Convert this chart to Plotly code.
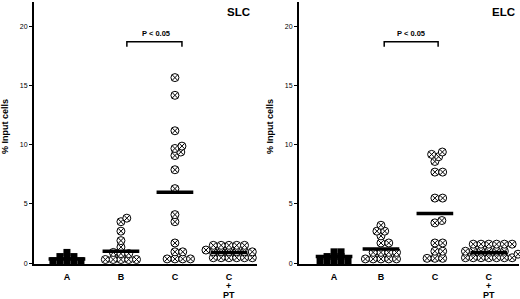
import math
import plotly.graph_objects as go

# ---- data ----
categories = ["A", "B", "C", "C+PT"]
tick_labels = ["A", "B", "C", "C"]
tick_sublabels = ["+", "PT"]   # extra lines under the last category
panels = ["SLC", "ELC"]

slc_A = [0.2, 0.2, 0.2, 0.2, 0.2, 0.55, 0.55, 0.55, 0.9]
slc_B = [0.3, 0.3, 0.3, 0.3, 0.3, 0.8, 0.8, 0.9, 1.35, 1.9, 2.7, 3.5, 3.8]
slc_C = [0.35, 0.35, 0.35, 0.35, 0.95, 0.95, 1.7, 3.5, 4.1, 6.3, 7.9,
         9.1, 9.4, 9.7, 9.9, 11.2, 14.2, 15.7]
slc_CPT = [0.45, 0.45, 0.45, 0.45, 0.45, 0.45, 0.95, 0.95, 0.95, 0.95, 0.95,
           0.95, 1.1, 1.5, 1.5, 1.5, 1.5, 1.5]
slc_means = [0.35, 1.0, 6.0, 0.9]

elc_A = [0.2, 0.2, 0.2, 0.2, 0.2, 0.55, 0.55, 0.55, 0.95, 0.95]
elc_B = [0.35, 0.35, 0.35, 0.35, 0.35, 0.9, 0.9, 0.9, 0.9, 1.7, 1.7, 2.3,
         2.7, 2.7, 3.2]
elc_C = [0.4, 0.4, 0.4, 1.0, 1.0, 1.7, 1.7, 3.4, 3.6, 5.5, 5.5, 7.7, 7.7,
         8.6, 9.0, 9.2, 9.4]
elc_CPT = [0.45, 0.45, 0.45, 0.45, 0.45, 0.45, 0.45, 0.75, 1.0, 1.0, 1.0,
           1.0, 1.0, 1.0, 1.6, 1.6, 1.6, 1.6, 1.6, 1.6]
elc_means = [0.55, 1.2, 4.2, 0.9]

sig_text = "P < 0.05"

# ---- geometry ----
W, H = 520, 299
PX_PER_Y = 11.8      # pixels per data unit (y)
PX_PER_CAT = 54.0    # pixels per category step (x)
FONT = "Liberation Sans, Arial, sans-serif"


def px(x):
    return x / W


def py(y):
    return 1 - y / H


def dodge(values, d, yscale):
    """Simple beeswarm: returns x offsets in pixels."""
    order = sorted(range(len(values)), key=lambda i: values[i])
    placed = []
    offs = [0.0] * len(values)
    for i in order:
        yv = values[i] * PX_PER_Y * yscale
        cands = [0.0]
        for (xo, yo) in placed:
            dy = abs(yv - yo)
            if dy < d:
                dx = math.sqrt(d * d - dy * dy)
                cands += [xo + dx, xo - dx]
        best = 0.0
        for c in sorted(cands, key=lambda c: (abs(c), -c)):
            ok = all((c - xo) ** 2 + (yv - yo) ** 2 >= d * d - 1e-6
                     for (xo, yo) in placed)
            if ok:
                best = c
                break
        placed.append((best, yv))
        offs[i] = best
    return offs


fig = go.Figure()

panel_data = [
    ([slc_A, slc_B, slc_C, slc_CPT], slc_means, [0, 1, 2, 3], [-0.61, 3.52],
     [34, 257], (238, 12), (156, 33), (1.11, 2.13)),
    ([elc_A, elc_B, elc_C, elc_CPT], elc_means, [0.13, 1, 2, 3], [-0.52, 3.56],
     [299, 519], (503, 12), (411, 33), (1.06, 2.06)),
]

y_top, y_bot = 2, 264
for k, (groups, means, xpos, xr, xdom, lab_xy, sig_xy, br) in enumerate(panel_data):
    xa = "x" if k == 0 else "x2"
    ya = "y" if k == 0 else "y2"
    for gi, vals in enumerate(groups):
        if gi == 0:
            offs = dodge(vals, 7.0, 3.0)
            fig.add_trace(go.Scatter(
                x=[xpos[gi] + o / PX_PER_CAT for o in offs], y=vals,
                mode="markers", xaxis=xa, yaxis=ya, cliponaxis=False,
                marker=dict(symbol="square", size=7, color="black",
                            line=dict(width=0)),
                showlegend=False, hoverinfo="skip"))
        else:
            offs = dodge(vals, 7.8, 1.45)
            fig.add_trace(go.Scatter(
                x=[xpos[gi] + o / PX_PER_CAT for o in offs], y=vals,
                mode="markers", xaxis=xa, yaxis=ya, cliponaxis=False,
                marker=dict(symbol="circle-x", size=8, color="white",
                            line=dict(width=1, color="black")),
                showlegend=False, hoverinfo="skip"))
    for gi, m in enumerate(means):
        hw = 0.34
        fig.add_trace(go.Scatter(
            x=[xpos[gi] - hw, xpos[gi] + hw], y=[m, m], mode="lines",
            xaxis=xa, yaxis=ya, line=dict(color="black", width=3.5),
            showlegend=False, hoverinfo="skip"))

    # significance bracket
    y1 = (263 - 42) / PX_PER_Y
    y0 = (263 - 47) / PX_PER_Y
    fig.add_trace(go.Scatter(
        x=[br[0], br[0], br[1], br[1]], y=[y0, y1, y1, y0], mode="lines",
        xaxis=xa, yaxis=ya, line=dict(color="black", width=1.5),
        showlegend=False, hoverinfo="skip"))

    fig.add_annotation(x=px(sig_xy[0]), y=py(sig_xy[1]), xref="paper",
                       yref="paper", xanchor="center", yanchor="middle",
                       text="<b>" + sig_text + "</b>",
                       showarrow=False, font=dict(size=7.5, family=FONT,
                                                  color="black"))
    fig.add_annotation(x=px(lab_xy[0]), y=py(lab_xy[1]), xref="paper",
                       yref="paper", xanchor="center", yanchor="middle",
                       text="<b>" + panels[k] + "</b>",
                       showarrow=False, font=dict(size=11.5, family=FONT,
                                                  color="black"))
    fig.add_annotation(x=px(xdom[0] - 29), y=py(127), xref="paper",
                       yref="paper", xanchor="center", yanchor="middle",
                       text="<b>% Input cells</b>",
                       textangle=-90, showarrow=False,
                       font=dict(size=9, family=FONT, color="black"))
    # "+" and "PT" lines under the last category label
    for j, (t, yy) in enumerate(zip(tick_sublabels, [286, 295])):
        fig.add_annotation(x=xpos[3], y=py(yy), xref=xa, yref="paper",
                           xanchor="center", yanchor="middle",
                           text="<b>" + t + "</b>", showarrow=False,
                           borderpad=0,
                           font=dict(size=9, family=FONT, color="black"))

    xaxis = dict(domain=[px(xdom[0]), px(xdom[1])], range=xr,
                 tickvals=xpos, ticktext=tick_labels, ticks="",
                 ticklabelstandoff=3, automargin=False,
                 showline=True, linewidth=2, linecolor="black",
                 showgrid=False, zeroline=False, anchor=ya,
                 tickfont=dict(size=9, family=FONT, color="black",
                               weight="bold"))
    yaxis = dict(domain=[py(y_bot), py(y_top)], range=[-0.08, 22.1],
                 tickvals=[0, 5, 10, 15, 20], ticks="outside", ticklen=3,
                 tickwidth=1, tickcolor="black", showline=True, linewidth=2,
                 linecolor="black", showgrid=False, zeroline=False,
                 automargin=False,
                 anchor=xa, tickfont=dict(size=7, family=FONT, color="black"))
    if k == 0:
        fig.update_layout(xaxis=xaxis, yaxis=yaxis)
    else:
        fig.update_layout(xaxis2=xaxis, yaxis2=yaxis)

fig.update_layout(width=W, height=H, margin=dict(l=0, r=0, t=0, b=0),
                  paper_bgcolor="white", plot_bgcolor="white",
                  font=dict(family=FONT, color="black"))

fig.write_html("out.html", config={"displayModeBar": False},
               post_script="document.body.style.margin='0';"
                           "document.body.style.overflow='hidden';")
